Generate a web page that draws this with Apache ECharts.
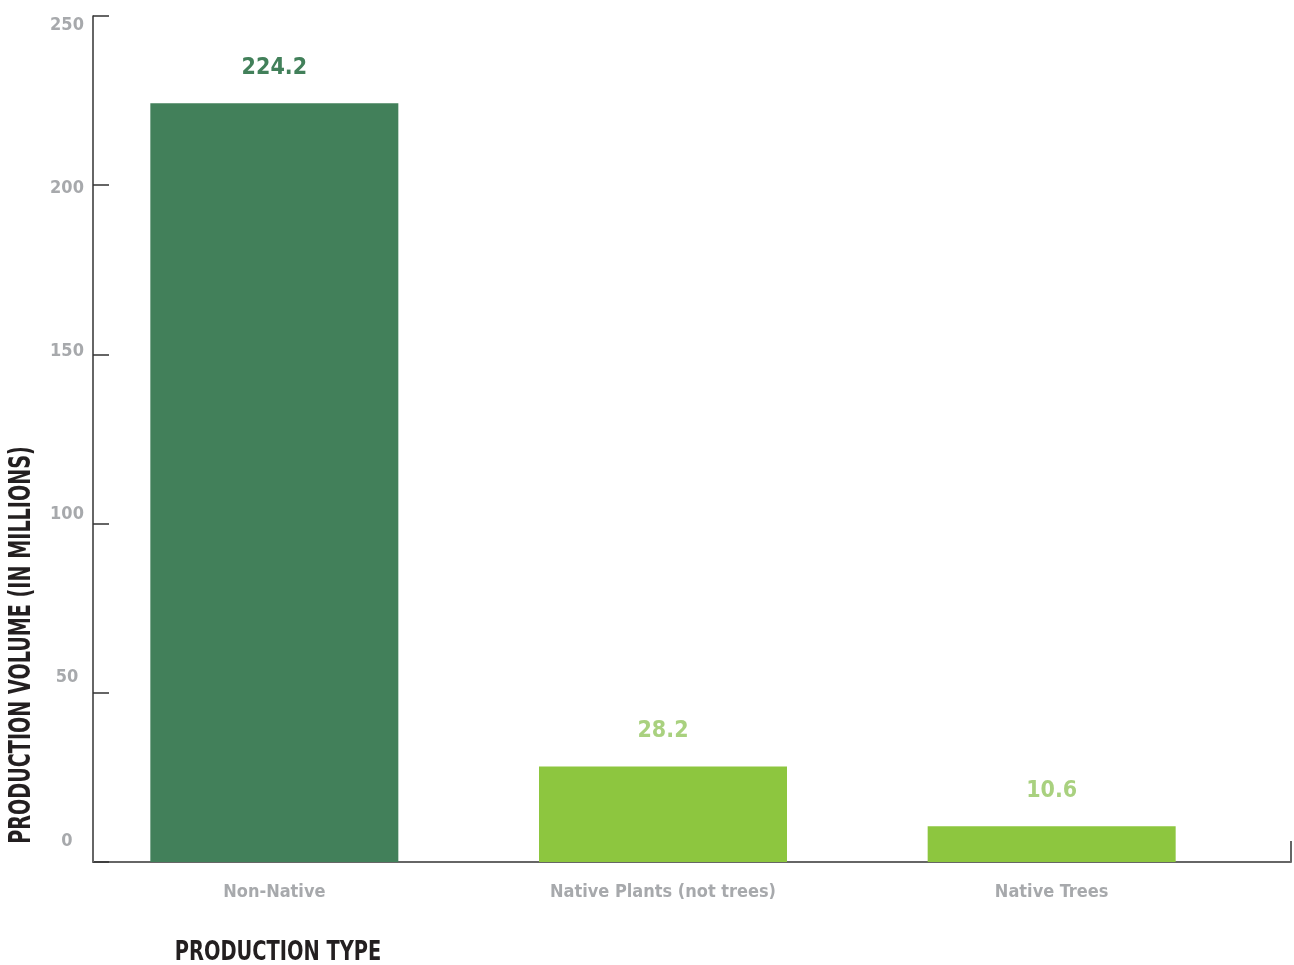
<!DOCTYPE html>
<html>
<head>
<meta charset="utf-8">
<script src="https://cdn.jsdelivr.net/npm/echarts@6/dist/echarts.min.js"></script>
<style>
  html, body { margin: 0; padding: 0; background: #fff; }
  #chart { width: 1294px; height: 965px; }
</style>
</head>
<body>
<div id="chart"></div>
<script>
// Production volume by production type (millions)
const categories = ['Non-Native', 'Native Plants (not trees)', 'Native Trees'];
const volumes = [224.2, 28.2, 10.6];
const barColors = ['#42805A', '#8DC63F', '#8DC63F'];
const valueLabelColors = ['#42805A', '#A9D17F', '#A9D17F'];
const yMin = 0;
const yMax = 250;
const yStep = 50;
const yTitle = 'PRODUCTION VOLUME (IN MILLIONS)';
const xTitle = 'PRODUCTION TYPE';

const FONT = "'DejaVu Sans Condensed','Liberation Sans Narrow','Roboto',sans-serif";
const GREY = '#A7A9AC';

const chart = echarts.init(document.getElementById('chart'), null, { renderer: 'canvas' });

const option = {
  backgroundColor: '#ffffff',
  animation: false,
  grid: [
    // frame: axis lines and ticks
    { left: 93, right: 3, top: 16, bottom: 103 },
    // bars and category labels
    { left: 80, width: 1166, top: 16, bottom: 103 },
    // value labels of the vertical axis
    { left: 93, right: 3, top: 25, bottom: 124 }
  ],
  xAxis: [
    {
      gridIndex: 0, type: 'value', min: 0, max: 1, interval: 1,
      axisLine: { show: true, lineStyle: { color: '#666666', width: 2 } },
      axisTick: { show: true, inside: true, length: 21, lineStyle: { color: '#666666', width: 2 } },
      axisLabel: { show: false }, splitLine: { show: false }
    },
    {
      gridIndex: 1, type: 'category', data: categories,
      axisLine: { show: false }, axisTick: { show: false }, splitLine: { show: false },
      axisLabel: { show: true, color: GREY, fontFamily: FONT, fontWeight: 'bold', fontSize: 18, margin: 21 }
    },
    {
      gridIndex: 2, type: 'value', show: false
    }
  ],
  yAxis: [
    {
      gridIndex: 0, type: 'value', min: yMin, max: yMax, interval: yStep,
      axisLine: { show: true, lineStyle: { color: '#333333', width: 1.5 } },
      axisTick: { show: true, inside: true, length: 16, lineStyle: { color: '#333333', width: 1.5 } },
      axisLabel: { show: false }, splitLine: { show: false }
    },
    {
      gridIndex: 1, type: 'value', min: yMin, max: yMax, show: false
    },
    {
      gridIndex: 2, type: 'value', min: yMin, max: yMax, interval: yStep,
      axisLine: { show: false }, axisTick: { show: false }, splitLine: { show: false },
      axisLabel: { show: true, color: GREY, fontFamily: FONT, fontWeight: 'bold', fontSize: 18, align: 'center', margin: 26 }
    }
  ],
  series: [
    {
      type: 'bar',
      xAxisIndex: 1,
      yAxisIndex: 1,
      barWidth: 248,
      data: volumes.map((v, i) => ({
        value: v,
        itemStyle: { color: barColors[i] },
        label: { color: valueLabelColors[i] }
      })),
      label: {
        show: true,
        position: 'top',
        distance: 24,
        fontFamily: FONT,
        fontWeight: 'bold',
        fontSize: 23,
        formatter: (p) => p.value.toFixed(1)
      }
    }
  ],
  graphic: [
    {
      type: 'text',
      x: 22, y: 645,
      rotation: Math.PI / 2,
      scaleX: 0.71,
      style: {
        text: yTitle,
        fill: '#231F20',
        font: 'bold 30px ' + FONT,
        textAlign: 'center',
        textVerticalAlign: 'middle'
      }
    },
    {
      type: 'text',
      x: 278, y: 953,
      scaleX: 0.83,
      style: {
        text: xTitle,
        fill: '#231F20',
        font: 'bold 26px ' + FONT,
        textAlign: 'center',
        textVerticalAlign: 'middle'
      }
    }
  ]
};

chart.setOption(option);
</script>
</body>
</html>
